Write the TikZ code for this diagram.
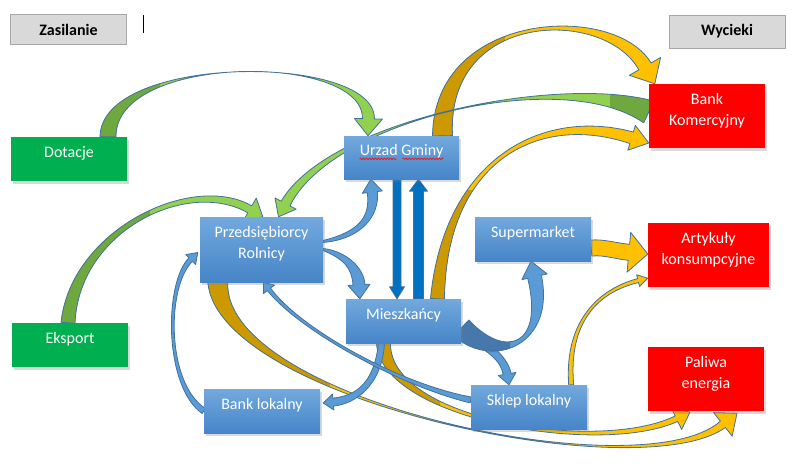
\documentclass[tikz,border=0pt]{standalone}
\usepackage{fontspec}
\setmainfont{Carlito}
\usepackage{tikz}
\usetikzlibrary{calc,shadows,decorations.pathmorphing}
\definecolor{grnbox}{RGB}{0,176,80}
\definecolor{grnlt}{RGB}{146,208,80}
\definecolor{grndk}{RGB}{112,168,64}
\definecolor{yel}{RGB}{255,192,0}
\definecolor{gold}{RGB}{204,153,0}
\definecolor{bluelt}{RGB}{91,155,213}
\definecolor{bluedk}{RGB}{70,120,172}
\definecolor{edge}{RGB}{65,113,156}
\definecolor{arrblue}{RGB}{0,112,192}
\definecolor{boxtop}{RGB}{114,169,222}
\definecolor{boxbot}{RGB}{70,133,200}
\definecolor{redbx}{RGB}{255,0,0}
\definecolor{headgray}{RGB}{217,217,217}
\definecolor{headline}{RGB}{166,166,166}
\pgfdeclarelayer{background}
\pgfsetlayers{background,main}

% ribbon widths: start/ctrl1/ctrl2/end/head/head length
\newcommand\rw[1]{\setrw#1\relax}
\def\setrw#1/#2/#3/#4/#5/#6\relax{\def\rwa{#1pt}\def\rwb{#2pt}\def\rwc{#3pt}\def\rwd{#4pt}\def\rwh{#5pt}\def\rwl{#6pt}}
\def\rshape#1{%
  \path[#1] ($(r0)!\rwa!90:(r1)$) .. controls ($(r1)!\rwb!-90:(r0)$) and ($(r2)!\rwc!90:(rE)$) .. ($(rE)!\rwd!-90:(r2)$)
    -- ($(rE)!\rwh!-90:(r2)$) -- (rT) -- ($(rE)!\rwh!90:(r2)$) -- ($(rE)!\rwd!90:(r2)$)
    .. controls ($(r2)!\rwc!-90:(rE)$) and ($(r1)!\rwb!90:(r0)$) .. ($(r0)!\rwa!-90:(r1)$) -- cycle;}
% #1 light, #2 dark, #3 dark part, #4 start, #5 #6 controls, #7 tip
\newcommand\ribbon[7]{%
  \coordinate (r0) at #4; \coordinate (r1) at #5;
  \coordinate (r2) at #6; \coordinate (rT) at #7;
  \coordinate (rE) at ($(rT)!\rwl!(r2)$);
  \rshape{fill=#1}
  \begin{scope}\clip #3; \rshape{fill=#2}\end{scope}
  \rshape{draw=edge, line width=0.8pt, line join=round}}

\tikzset{
  box/.style={minimum width=116pt, minimum height=44pt, inner sep=0pt,
    drop shadow={shadow xshift=2pt, shadow yshift=-2.5pt, opacity=.3}},
  bluebox/.style={box, top color=boxtop, bottom color=boxbot},
  greenbox/.style={box, fill=grnbox},
  redbox/.style={box, fill=redbx, minimum height=64pt},
  headbox/.style={fill=headgray, draw=headline, line width=1pt, minimum width=116pt,
    minimum height=30pt, font=\bfseries\fontsize{16}{19}\selectfont},
  lbl/.style={anchor=base, text=white, align=center, inner sep=0pt,
    font=\fontsize{16}{21}\selectfont},
  squig/.style={red, line width=0.6pt, decorate,
    decoration={snake, amplitude=0.8pt, segment length=3pt}}
}

\begin{document}
\begin{tikzpicture}[x=1pt, y=-1pt]
  \useasboundingbox (0,0) rectangle (793,466);

  % Headers
  \node[headbox] (zasilanie) at (68.5,29.5) {Zasilanie};
  \node[headbox, minimum height=33pt] (wycieki) at (727,31.5) {Wycieki};
  \draw[line width=1pt] (143,15) -- (143,33);

  % Sources
  \node[greenbox] (dotacje) at (69,159) {};
  \node[lbl] (dotacjeT) at ($(dotacje.north)+(0,21)$) {Dotacje};
  \node[greenbox] (eksport) at (70,345) {};
  \node[lbl] (eksportT) at ($(eksport.north)+(0,21)$) {Eksport};

  % Local economy
  \node[bluebox, minimum width=115pt, minimum height=43pt] (urzad) at (401.5,157.5) {};
  \node[lbl] (urzadT) at ($(urzad.north)+(0,20)$) {Urzad Gminy};
  \draw[squig] ($(urzadT.base west)+(0,3)$) -- ++(37,0);
  \draw[squig] ($(urzadT.base east)+(-41,3)$) -- ++(41,0);
  \node[bluebox, minimum width=123pt, minimum height=65pt] (przeds) at (261.5,249.5) {};
  \node[lbl] (przedsT) at ($(przeds.north)+(0,42)$) {Przedsiębiorcy\\Rolnicy};
  \node[bluebox, minimum width=115pt] (miesz) at (403.5,321) {};
  \node[lbl] (mieszT) at ($(miesz.north)+(0,21)$) {Mieszkańcy};
  \node[bluebox] (superm) at (533,239) {};
  \node[lbl] (supermT) at ($(superm.north)+(0,21)$) {Supermarket};
  \node[bluebox] (banklok) at (262,411) {};
  \node[lbl] (banklokT) at ($(banklok.north)+(0,21)$) {Bank lokalny};
  \node[bluebox] (sklep) at (529,407) {};
  \node[lbl] (sklepT) at ($(sklep.north)+(0,21)$) {Sklep lokalny};

  % Leaks
  \node[redbox] (bankkom) at (707,116) {};
  \node[lbl] (bankkomT) at ($(bankkom.north)+(0,42)$) {Bank\\Komercyjny};
  \node[redbox, minimum width=121pt] (artyk) at (708.5,255) {};
  \node[lbl] (artykT) at ($(artyk.north)+(0,42)$) {Artykuły\\konsumpcyjne};
  \node[redbox] (paliwa) at (706,379) {};
  \node[lbl] (paliwaT) at ($(paliwa.north)+(0,42)$) {Paliwa\\energia};

  \begin{pgfonlayer}{background}
    % Green flows
    \rw{8/7/6/6/14/17}
    \ribbon{grnlt}{grndk}{(0,0) rectangle (160,466)}{($(dotacje.north)+(39,0)$)}{(108,53)}{(370,53)}{($(urzad.north)+(-33.5,0)$)}
    \rw{7/4/4/4/13/15}
    \ribbon{grnlt}{grndk}{(0,0) rectangle (150,466)}{($(eksport.north)+(-2,0)$)}{(75,230)}{(190,175)}{($(przeds.north west)+(63,0)$)}

    % Yellow flows
    \rw{10/6/6/7/18/20}
    \ribbon{yel}{gold}{(0,0) rectangle (505,466)}{($(urzad.north)+(41,0)$)}{(440,10)}{(610,5)}{($(bankkom.north west)+(6,0)$)}
    \rw{12/-5/1/5/12/15}
    \ribbon{grnlt}{grndk}{(610,0) rectangle (793,466)}{($(bankkom.west)+(0,-4)$)}{(560,70)}{(330,120)}{($(przeds.north)+(17,0)$)}
    \rw{7/1/3/6/13/18}
    \ribbon{yel}{gold}{(0,190) rectangle (480,466)}{($(miesz.north)+(34,0)$)}{(445,160)}{(540,110)}{($(bankkom.west)+(0,27)$)}
    \rw{8/8/8/8/20/19}
    \ribbon{yel}{yel}{(0,0) rectangle (1,1)}{($(superm.east)+(0,9)$)}{(605,247)}{(615,251)}{($(artyk.west)+(0,-1)$)}
    \rw{2.5/2/1.5/2/6/10}
    \ribbon{yel}{yel}{(0,0) rectangle (1,1)}{($(sklep.north east)+(-16,0)$)}{(566,320)}{(600,290)}{($(artyk.south west)+(0,-9)$)}
    \rw{10/2/-1/4/15/18}
    \ribbon{yel}{gold}{(0,0) rectangle (330,466)}{($(przeds.south west)+(18,0)$)}{(220,400)}{(640,490)}{($(paliwa.south)+(31,2)$)}
    \rw{7/4/2/3/12/15}
    \ribbon{yel}{gold}{(0,0) rectangle (440,466)}{($(miesz.south)+(-20,0)$)}{(385,420)}{(600,455)}{($(paliwa.south)+(-16,1)$)}

    % Blue flows
    \rw{4/4/4/4/7.5/12}
    \ribbon{arrblue}{arrblue}{(0,0) rectangle (1,1)}{($(urzad.south)+(-4.5,0)$)}{(397,220)}{(397,260)}{($(miesz.north)+(-6.5,0)$)}
    \rw{5/5/5/5/9/12}
    \ribbon{arrblue}{arrblue}{(0,0) rectangle (1,1)}{($(miesz.north)+(15,0)$)}{(418.5,260)}{(418.5,220)}{($(urzad.south)+(17,0)$)}
    \rw{1/4/5/5/10/13}
    \ribbon{bluelt}{bluelt}{(0,0) rectangle (1,1)}{($(przeds.east)+(0,-8)$)}{(362,235)}{(375,215)}{($(urzad.south west)+(27,0)$)}
    \rw{1/4/6/6/11/14}
    \ribbon{bluelt}{bluelt}{(0,0) rectangle (1,1)}{(przeds.east)}{(345,255)}{(358,268)}{($(miesz.north west)+(14,0)$)}
    \rw{4/4/4/4/9/11}
    \ribbon{bluelt}{bluelt}{(0,0) rectangle (1,1)}{($(miesz.south east)+(20,0)$)}{(495,352)}{(505,362)}{($(sklep.north)+(-20,0)$)}
    \rw{11/8/6/7/13/16}
    \ribbon{bluelt}{bluedk}{(0,0) rectangle (510,466)}{($(miesz.east)+(0,7)$)}{(500,365)}{(550,345)}{($(superm.south)+(-2,0)$)}
    \rw{3/4/4/4/8/10}
    \ribbon{bluelt}{bluelt}{(0,0) rectangle (1,1)}{($(miesz.south)+(-22,0)$)}{(378,385)}{(355,400)}{($(banklok.east)+(3,-8)$)}
    \rw{3/2/2/2.5/7/10}
    \ribbon{bluelt}{bluelt}{(0,0) rectangle (1,1)}{(banklok.west)}{(165,385)}{(165,285)}{($(przeds.west)+(-2,3)$)}
    \rw{3/1/1/2/7/9}
    \ribbon{bluelt}{bluelt}{(0,0) rectangle (1,1)}{($(sklep.west)+(0,-7)$)}{(400,385)}{(300,330)}{($(przeds.south)+(2,0)$)}
  \end{pgfonlayer}

\end{tikzpicture}
\end{document}
